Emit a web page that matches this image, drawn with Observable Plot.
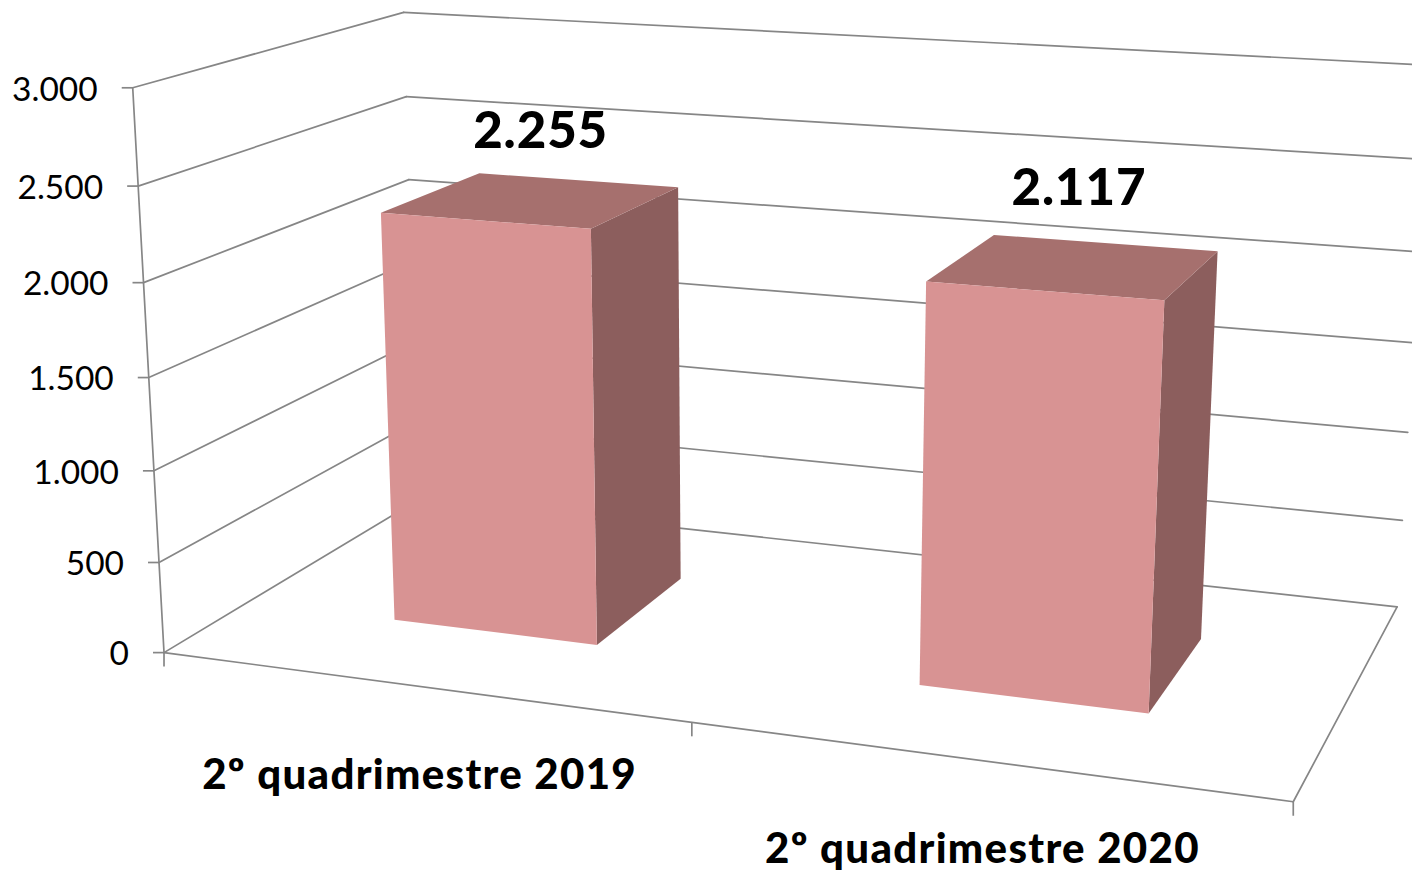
<!DOCTYPE html>
<html><head><meta charset="utf-8">
<script src="https://cdn.jsdelivr.net/npm/d3@7"></script>
<script src="https://cdn.jsdelivr.net/npm/@observablehq/plot@0.6"></script>
<style>html,body{margin:0;padding:0;background:#fff;overflow:hidden}svg{display:block}
.catlabel text{letter-spacing:1.3px}.barlabel text{letter-spacing:0.9px}</style>
</head><body><div id="chart"></div>
<script>
const categories = ["2º quadrimestre 2019", "2º quadrimestre 2020"];
const values = [2255, 2117];
const valueLabels = ["2.255", "2.117"];
const yTicks = [0, 500, 1000, 1500, 2000, 2500, 3000];
const yTickLabels = ["0", "500", "1.000", "1.500", "2.000", "2.500", "3.000"];
const vMax = 3000;
const barInset = 0.3;   // gap on each side of a bar, in category / depth units
const labelDx = [8, 4];
const labelDy = [-68, -77];
const colors = {front:"#d89393", top:"#a6706e", side:"#8c5e5d", grid:"#868686"};

// camera calibration of the 3D frame: model point [u, v, w] -> picture point
const calibration = [
 [0,3000,0,132.7,87.7],[0,2500,0,137.3,185.7],[0,2000,0,143.3,282],[0,1500,0,148,377],[0,1000,0,153,470],[0,500,0,158,562],[0,0,0,163,652],
 [0,3000,1,401.7,12],[0,2500,1,405.7,96],[0,2000,1,407.7,179],
 [1,0,0,691,722],[2,0,0,1292.7,801.3],[2,0,1,1396,606.7],[2,500,1,1401.7,519.3],[2,3000,1,1432,65],
 [0.3,0,0.3,394,619],[0.7,0,0.3,597,644],[0.7,0,0.7,681,578],[1.3,0,0.3,920,686],[1.7,0,0.3,1149.3,712.7],[1.7,0,0.7,1200,639],
 [0.3,2255,0.3,381,212.7],[0.7,2255,0.3,590,228],[0.7,2255,0.7,677,187],[0.3,2255,0.7,483,173],
 [1.3,2117,0.3,925.8,281],[1.7,2117,0.3,1163,299],[1.7,2117,0.7,1215,250.3],[1.3,2117,0.7,992,234.7]
];
function solve(A,b){const n=b.length;const M=A.map((r,i)=>[...r,b[i]]);
 for(let i=0;i<n;i++){let p=i;for(let k=i+1;k<n;k++)if(Math.abs(M[k][i])>Math.abs(M[p][i]))p=k;[M[i],M[p]]=[M[p],M[i]];
  for(let k=0;k<n;k++){if(k===i)continue;const f=M[k][i]/M[i][i];for(let j=i;j<=n;j++)M[k][j]-=f*M[i][j];}}
 return M.map((r,i)=>r[n]/r[i]);}
const camera=(()=>{const rows=[],rhs=[];
 for(const [u,v,w,x,y] of calibration){const V=v/vMax,X=x/1000,Y=y/1000;
  rows.push([u,V,w,1,0,0,0,0,-X*u,-X*V,-X*w]);rhs.push(X);
  rows.push([0,0,0,0,u,V,w,1,-Y*u,-Y*V,-Y*w]);rhs.push(Y);}
 const N=11;const A=d3.range(N).map(i=>d3.range(N).map(j=>d3.sum(rows,r=>r[i]*r[j])));
 const b=d3.range(N).map(i=>d3.sum(rows,(r,k)=>r[i]*rhs[k]));
 return solve(A,b);})();
function project(u,v,w){const V=v/vMax,c=camera;const s=c[8]*u+c[9]*V+c[10]*w+1;
 return [1000*(c[0]*u+c[1]*V+c[2]*w+c[3])/s,1000*(c[4]*u+c[5]*V+c[6]*w+c[7])/s];}

// frame lines
const segs=[];
function seg(a,b,id){segs.push({id,p:project(...a)},{id,p:project(...b)});}
yTicks.forEach(v=>{seg([0,v,0],[0,v,1],"l"+v);seg([0,v,1],[2,v,1],"b"+v);});
seg([0,0,0],[0,vMax,0],"axis");seg([0,0,0],[2,0,0],"front");seg([2,0,0],[2,0,1],"right");

// bar faces
const faces=[];
values.forEach((v,i)=>{
 const u0=i+barInset,u1=i+1-barInset,w0=barInset,w1=1-barInset;
 const face=(name,pts)=>pts.forEach(q=>faces.push({id:name+i,kind:name,p:project(...q)}));
 face("side",[[u1,0,w0],[u1,0,w1],[u1,v,w1],[u1,v,w0]]);
 face("top",[[u0,v,w0],[u1,v,w0],[u1,v,w1],[u0,v,w1]]);
 face("front",[[u0,0,w0],[u1,0,w0],[u1,v,w0],[u0,v,w0]]);
});

const yTickData=yTicks.map((v,i)=>({label:yTickLabels[i],p:project(0,v,0)}));
const xTickData=[0,1,2].map(u=>({p:project(u,0,0)}));
const barLabels=values.map((v,i)=>({label:valueLabels[i],p:project(i+0.5,v,0.5),dx:labelDx[i],dy:labelDy[i]}));
const catLabels=categories.map((c,i)=>({label:c,p:project(i+0.5,0,0)}));
const font="Lato, Carlito, sans-serif";

const plot=Plot.plot({width:1412,height:872,margin:0,
 x:{domain:[0,1412],range:[0,1412],axis:null},y:{domain:[0,872],range:[0,872],axis:null},
 style:{overflow:"hidden",background:"#fff",fontFamily:font},
 marks:[
  Plot.line(segs,{x:d=>d.p[0],y:d=>d.p[1],z:"id",stroke:colors.grid,strokeWidth:1.7}),
  Plot.link(yTickData,{x1:d=>d.p[0]-11,x2:d=>d.p[0],y1:d=>d.p[1],y2:d=>d.p[1],stroke:colors.grid,strokeWidth:1.7}),
  Plot.link(xTickData,{x1:d=>d.p[0],x2:d=>d.p[0],y1:d=>d.p[1],y2:d=>d.p[1]+14,stroke:colors.grid,strokeWidth:1.7}),
  Plot.line(faces,{x:d=>d.p[0],y:d=>d.p[1],z:"id",fill:d=>colors[d.kind],stroke:null}),
  Plot.text(yTickData,{x:d=>d.p[0],y:d=>d.p[1],text:"label",dx:-35,dy:2,textAnchor:"end",fontSize:33.5,fill:"#000"}),
  Plot.text(barLabels,{x:d=>d.p[0]+d.dx,y:d=>d.p[1]+d.dy,text:"label",fontSize:51,fontWeight:900,fill:"#000",className:"barlabel"}),
  Plot.text(catLabels,{x:d=>d.p[0],y:d=>d.p[1],text:"label",dx:0,dy:89,fontSize:42,fontWeight:900,fill:"#000",className:"catlabel"})
 ]});
document.getElementById("chart").append(plot);
</script></body></html>
